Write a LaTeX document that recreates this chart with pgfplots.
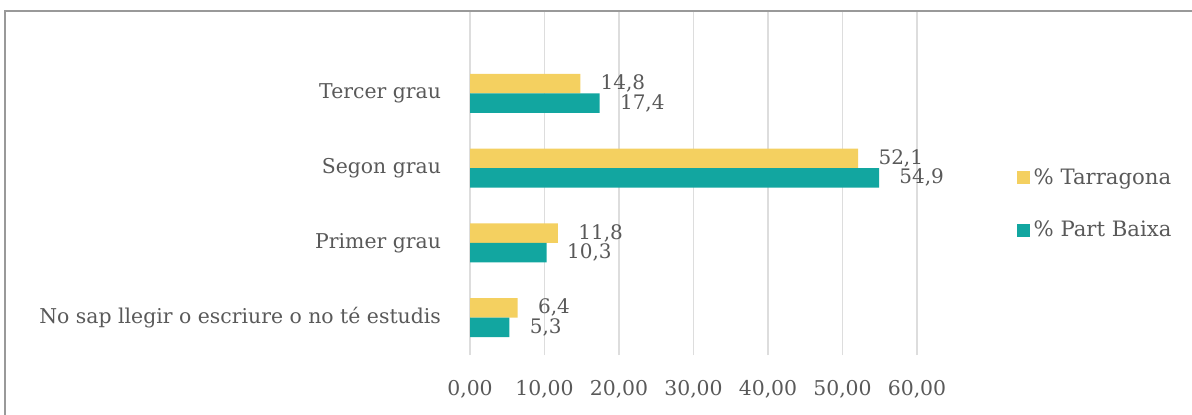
\documentclass[border=0pt]{standalone}
\usepackage{fontspec}
\setmainfont{DejaVu Serif}
\usepackage{pgfplots}
\pgfplotsset{compat=1.18}
\definecolor{tyellow}{HTML}{F4D060}
\definecolor{tteal}{HTML}{12A6A0}
\definecolor{txt}{HTML}{595959}
\definecolor{gridc}{HTML}{DDDDDD}
\begin{document}
\begin{tikzpicture}[x=1pt,y=1pt]
\useasboundingbox (0,0) rectangle (596,207);
\draw[color=black!40, line width=0.8pt] (2.5,-10) rectangle (620,201.5);
\begin{axis}[
  at={(235pt,29.5pt)}, anchor=south west,
  scale only axis, width=223.5pt, height=171.5pt,
  xbar, bar width=9.75pt,
  xmin=0, xmax=60, ymin=-0.5, ymax=4.09,
  ytick={0,1,2,3},
  yticklabels={No sap llegir o escriure o no té estudis, Primer grau, Segon grau, Tercer grau},
  xtick={0,10,...,60},
  xmajorgrids, grid style={gridc, line width=0.7pt},
  axis line style={draw=none}, major tick length=0pt,
  /pgf/number format/assume math mode=true,
  tick label style={text=txt, font=\fontsize{10.2}{12}\selectfont},
  xticklabel style={yshift=-9pt, /pgf/number format/.cd, fixed, fixed zerofill, precision=2, use comma, 1000 sep={}},
  yticklabel style={xshift=-11pt},
  nodes near coords={\pgfmathprintnumber[fixed,fixed zerofill,precision=1,use comma]{\pgfplotspointmeta}},
  every node near coord/.append style={anchor=west, inner sep=0pt, xshift=10pt, text=txt, font=\fontsize{10}{12}\selectfont},
  legend style={at={(1.222,0.44)}, anchor=west, draw=none, fill=none, inner sep=0pt, text=txt, font=\fontsize{10.6}{12}\selectfont, row sep=13pt},
  legend cell align=left,
]
\addplot[fill=tyellow, draw=none, bar shift=4.875pt,
  legend image code/.code={\fill[tyellow] (0pt,-3.2pt) rectangle (6.5pt,3.2pt);}]
  coordinates {(6.4,0) (11.8,1) (52.1,2) (14.8,3)};
\addlegendentry{\% Tarragona}
\addplot[fill=tteal, draw=none, bar shift=-4.875pt,
  legend image code/.code={\fill[tteal] (0pt,-3.2pt) rectangle (6.5pt,3.2pt);}]
  coordinates {(5.3,0) (10.3,1) (54.9,2) (17.4,3)};
\addlegendentry{\% Part Baixa}
\end{axis}
\end{tikzpicture}
\end{document}
